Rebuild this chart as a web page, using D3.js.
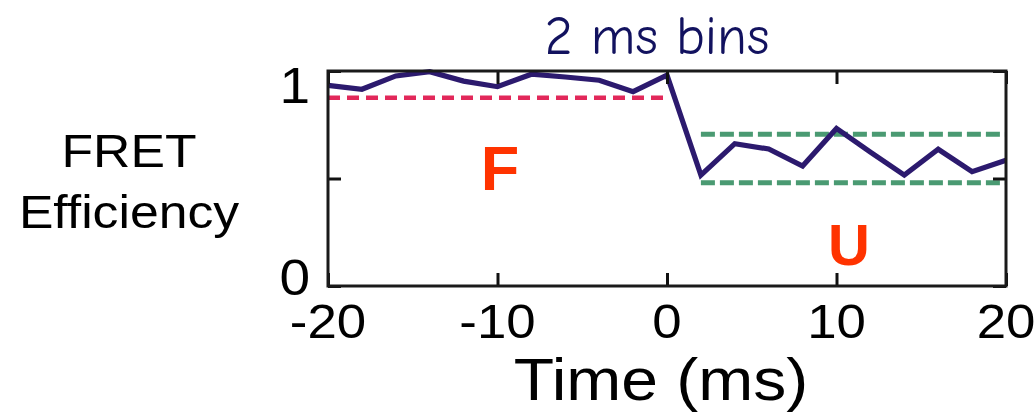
<!DOCTYPE html>
<html>
<head>
<meta charset="utf-8">
<script src="https://cdn.jsdelivr.net/npm/d3@7"></script>
<style>
  html, body { margin: 0; padding: 0; background: #fff; }
  svg { display: block; }
</style>
</head>
<body>
<svg id="chart" width="1036" height="414"></svg>
<script>
// FRET efficiency trace in 2 ms bins around the unfolding transition at t = 0
const times = [-20, -18, -16, -14, -12, -10, -8, -6, -4, -2, 0,
               2, 4, 6, 8, 10, 12, 14, 16, 18, 20];
const efficiency = [0.933, 0.915, 0.977, 0.997, 0.953, 0.927, 0.985, 0.972, 0.957, 0.904, 0.981,
                    0.516, 0.662, 0.637, 0.558, 0.733, 0.623, 0.516, 0.636, 0.532, 0.585];

// Reference levels: folded state (F) before, unfolded band (U) after
const foldedLevel = { t0: -20, t1: 0, value: 0.876 };
const unfoldedBand = { t0: 2, t1: 20, values: [0.706, 0.480] };

const xTicks = [-20, -10, 0, 10, 20];
const xTickLabels = ["-20", "-10", "0", "10", "20"];
const yTicks = [0, 0.5, 1];
const yTickLabels = ["0", "", "1"];

const svg = d3.select("#chart");
const plot = { left: 328, right: 1006, top: 71, bottom: 286 };

const x = d3.scaleLinear().domain([-20, 20]).range([plot.left, plot.right]);
const y = d3.scaleLinear().domain([0, 1]).range([plot.bottom, plot.top]);

const sans = "'Liberation Sans', Arial, Helvetica, sans-serif";
const stretch = 1.1; // horizontal stretch of the figure's sans-serif lettering

// Places a horizontally stretched text whose anchor stays at (px, py)
function stretchedText(parent, px, py, str, size, anchor) {
  return parent.append("text")
    .attr("transform", `translate(${px},${py}) scale(${stretch},1)`)
    .attr("text-anchor", anchor)
    .attr("font-family", sans)
    .attr("font-size", size)
    .attr("fill", "#000")
    .text(str);
}

// Reference levels
svg.append("line")
  .attr("x1", x(foldedLevel.t0)).attr("x2", x(foldedLevel.t1))
  .attr("y1", y(foldedLevel.value)).attr("y2", y(foldedLevel.value))
  .attr("stroke", "#e2285a").attr("stroke-width", 4.5)
  .attr("stroke-dasharray", "12 7");

unfoldedBand.values.forEach(v => {
  svg.append("line")
    .attr("x1", x(unfoldedBand.t0)).attr("x2", x(unfoldedBand.t1))
    .attr("y1", y(v)).attr("y2", y(v))
    .attr("stroke", "#4a9a72").attr("stroke-width", 5)
    .attr("stroke-dasharray", "14 5");
});

// Trace
const line = d3.line().x((d, i) => x(times[i])).y(d => y(d));
svg.append("path")
  .datum(efficiency)
  .attr("d", line)
  .attr("fill", "none")
  .attr("stroke", "#2c1a6e")
  .attr("stroke-width", 5.2)
  .attr("stroke-linejoin", "miter");

// Axes with inward ticks on all four sides
const tickLen = 13;
const bottomAxis = d3.axisBottom(x).tickValues(xTicks).tickSize(-tickLen).tickFormat("");
const topAxis = d3.axisTop(x).tickValues(xTicks).tickSize(-tickLen).tickFormat("");
const leftAxis = d3.axisLeft(y).tickValues(yTicks).tickSize(-tickLen).tickFormat("");
const rightAxis = d3.axisRight(y).tickValues(yTicks).tickSize(-tickLen).tickFormat("");

function styleAxis(g) {
  g.select(".domain").remove();
  g.selectAll(".tick line").attr("stroke", "#111").attr("stroke-width", 3);
}
svg.append("g").attr("transform", `translate(0,${plot.bottom})`).call(bottomAxis).call(styleAxis);
svg.append("g").attr("transform", `translate(0,${plot.top})`).call(topAxis).call(styleAxis);
svg.append("g").attr("transform", `translate(${plot.left},0)`).call(leftAxis).call(styleAxis);
svg.append("g").attr("transform", `translate(${plot.right},0)`).call(rightAxis).call(styleAxis);

// Frame
svg.append("rect")
  .attr("x", plot.left).attr("y", plot.top)
  .attr("width", plot.right - plot.left).attr("height", plot.bottom - plot.top)
  .attr("fill", "none").attr("stroke", "#1a1a1a").attr("stroke-width", 3);

// Tick labels
const xLabels = svg.append("g");
xTicks.forEach((t, i) => stretchedText(xLabels, x(t), 338, xTickLabels[i], 48, "middle"));

const yLabels = svg.append("g");
yTicks.forEach((t, i) => {
  if (yTickLabels[i] === "") return;
  const py = t === 1 ? y(t) + 32 : y(t) + 9;
  stretchedText(yLabels, 310, py, yTickLabels[i], 50, "end");
});

// Axis titles
stretchedText(svg, 661, 400, "Time (ms)", 60, "middle");
stretchedText(svg, 129, 167, "FRET", 47, "middle");
stretchedText(svg, 129, 228, "Efficiency", 47, "middle");

// Title
svg.append("text")
  .attr("x", 657).attr("y", 54)
  .attr("text-anchor", "middle")
  .attr("font-family", "'Comic Sans MS', 'Comic Neue', 'DejaVu Sans', cursive")
  .attr("font-size", 54)
  .attr("fill", "#12125f")
  .text("2 ms bins");

// State labels
svg.append("text")
  .attr("x", 500).attr("y", 190)
  .attr("text-anchor", "middle")
  .attr("font-family", sans)
  .attr("font-weight", "bold")
  .attr("font-size", 63)
  .attr("fill", "#ff3300")
  .text("F");

svg.append("text")
  .attr("x", 849).attr("y", 265)
  .attr("text-anchor", "middle")
  .attr("font-family", sans)
  .attr("font-weight", "bold")
  .attr("font-size", 58)
  .attr("fill", "#ff3300")
  .text("U");
</script>
</body>
</html>
